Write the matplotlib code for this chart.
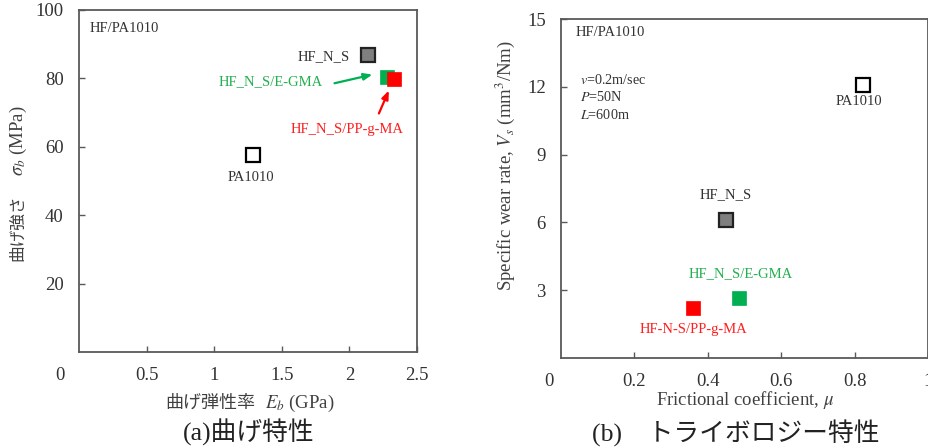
import matplotlib
matplotlib.use("Agg")
import matplotlib.pyplot as plt

plt.rcParams['font.family'] = ['Liberation Serif', 'Noto Sans CJK JP']
plt.rcParams['mathtext.fontset'] = 'stix'

# (a) bending properties
samples = ['PA1010', 'HF_N_S', 'HF_N_S/E-GMA', 'HF_N_S/PP-g-MA']
modulus = [1.29, 2.14, 2.28, 2.33]       # GPa
strength = [57.5, 86.8, 80.3, 79.8]      # MPa

# (b) tribology
friction = [0.823, 0.45, 0.485, 0.36]
wear = [12.1, 6.1, 2.65, 2.2]

faces = ['white', '#7f7f7f', '#00b050', '#ff0000']
edges = ['black', '#222222', '#00b050', '#ff0000']
green_txt = '#22b04f'
red_txt = '#ff1e1e'
frame = '#595959'
tick_col = '#333333'
fs_note = 10.5

fig = plt.figure(figsize=(9.29, 4.48), dpi=100)
ax1 = fig.add_axes([79/929, 1-352/448, 338/929, 342/448])
ax2 = fig.add_axes([561/929, 1-358/448, 367/929, 339/448])


def style(ax):
    for s in ax.spines.values():
        s.set_color(frame)
        s.set_linewidth(1.3)
    ax.tick_params(direction='in', length=4, width=1, color=frame,
                   labelsize=13.5, labelcolor=tick_col, pad=11)


# ---- left panel
for x, y, fc, ec in zip(modulus, strength, faces, edges):
    ax1.plot(x, y, 's', ms=9.5, mfc=fc, mec=ec, mew=1.6 if ec != fc else 0.5)
ax1.set_xlim(0, 2.5)
ax1.set_ylim(0, 100)
ax1.set_xticks([0.5, 1, 1.5, 2, 2.5])
ax1.set_xticklabels(['0.5', '1', '1.5', '2', '2.5'])
ax1.set_yticks([20, 40, 60, 80, 100])
style(ax1)
ax1.annotate('0', xy=(0, 0), xytext=(-14, -17), textcoords='offset points',
             ha='center', va='center', fontsize=13.5, color=tick_col)

ax1.text(0.081, 94.7, 'HF/PA1010', fontsize=fs_note, color='#333333', va='center')
ax1.text(2.0, 86.5, 'HF_N_S', fontsize=fs_note, color='#333333', ha='right', va='center')
ax1.text(1.27, 50.9, 'PA1010', fontsize=fs_note, color='#333333', ha='center', va='center')
ax1.text(1.80, 79.2, 'HF_N_S/E-GMA', fontsize=fs_note, color=green_txt, ha='right', va='center')
ax1.text(1.98, 65.2, 'HF_N_S/PP-g-MA', fontsize=fs_note, color=red_txt, ha='center', va='center')
ax1.annotate('', xy=(2.19, 81.3), xytext=(1.87, 78.4),
             arrowprops=dict(arrowstyle='-|>,head_length=0.5,head_width=0.2',
                             color='#00b050', lw=1.6))
ax1.annotate('', xy=(2.30, 77.2), xytext=(2.21, 69.0),
             arrowprops=dict(arrowstyle='-|>,head_length=0.5,head_width=0.2',
                             color='#ff0000', lw=1.6))

# ---- right panel
for x, y, fc, ec in zip(friction, wear, faces, edges):
    ax2.plot(x, y, 's', ms=9.5, mfc=fc, mec=ec, mew=1.6 if ec != fc else 0.5)
ax2.set_xlim(0, 1)
ax2.set_ylim(0, 15)
ax2.set_xticks([0.2, 0.4, 0.6, 0.8, 1])
ax2.set_xticklabels(['0.2', '0.4', '0.6', '0.8', '1'])
ax2.set_yticks([3, 6, 9, 12, 15])
style(ax2)
ax2.annotate('0', xy=(0, 0), xytext=(-9, -17), textcoords='offset points',
             ha='center', va='center', fontsize=13.5, color=tick_col)

ax2.text(0.041, 14.4, 'HF/PA1010', fontsize=fs_note, color='#333333', va='center')
ax2.text(0.052, 12.3, '$v$=0.2m/sec', fontsize=10.2, color='#333333', va='center')
ax2.text(0.052, 11.55, '$P$=50N', fontsize=10.2, color='#333333', va='center')
ax2.text(0.052, 10.75, '$L$=600m', fontsize=10.2, color='#333333', va='center')
ax2.text(0.812, 11.33, 'PA1010', fontsize=fs_note, color='#333333', ha='center', va='center')
ax2.text(0.45, 7.21, 'HF_N_S', fontsize=fs_note, color='#333333', ha='center', va='center')
ax2.text(0.49, 3.72, 'HF_N_S/E-GMA', fontsize=fs_note, color=green_txt, ha='center', va='center')
ax2.text(0.362, 1.28, 'HF-N-S/PP-g-MA', fontsize=fs_note, color=red_txt, ha='center', va='center')

# ---- axis labels and captions
lab = '#404040'
fig.text(18/929, 1-228/448, '曲げ強さ', rotation=90, ha='center', va='center',
         fontsize=12, color=lab, family='Noto Sans CJK JP')
fig.text(18/929, 1-141/448, r'$\sigma_b$ (MPa)', rotation=90, ha='center', va='center',
         fontsize=13.5, color=lab)
fig.text(210/929, 1-403/448, '曲げ弾性率', ha='center', va='center',
         fontsize=13, color=lab, family='Noto Sans CJK JP')
fig.text(300/929, 1-403/448, r'$E_b$ (GPa)', ha='center', va='center',
         fontsize=13.5, color=lab)
fig.text(249/929, 1-432/448, '(a)曲げ特性', ha='center', va='center',
         fontsize=18.5, color='#222222')

fig.text(745/929, 1-400/448, r'Frictional coefficient, $\mu$', ha='center', va='center',
         fontsize=13.5, color=lab)
fig.text(505/929, 1-166/448, r'Specific wear rate, $V_s$ (mm$^3$/Nm)', rotation=90,
         ha='center', va='center', fontsize=13.5, color=lab)
fig.text(736/929, 1-433/448, '(b)\u3000トライボロジー特性', ha='center', va='center',
         fontsize=18.5, color='#222222')

fig.savefig('out.png', dpi=100)
